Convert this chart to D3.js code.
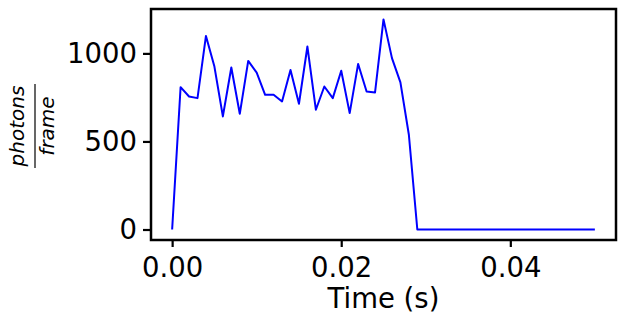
<!DOCTYPE html>
<html>
<head>
<meta charset="utf-8">
<script src="https://cdn.jsdelivr.net/npm/d3@7"></script>
<style>
  body { margin: 0; background: #fff; }
  svg text { font-family: "DejaVu Sans", sans-serif; fill: #000; }
</style>
</head>
<body>
<div id="chart"></div>
<script>
// time samples (s), one every ms
const times = d3.range(0, 51).map(i => i / 1000);
// photons per frame
const photons = [
    0, 808, 755, 746, 1099, 925, 642, 920, 657, 957,
    891, 765, 765, 727, 906, 714, 1039, 680, 812, 746,
    901, 661, 940, 784, 778, 1193, 973, 835, 538, 0,
    0, 0, 0, 0, 0, 0, 0, 0, 0, 0,
    0, 0, 0, 0, 0, 0, 0, 0, 0, 0, 0
];
const xTicks = [0, 0.02, 0.04];
const yTicks = [0, 500, 1000];

const width = 625, height = 325;
const margin = { top: 9, right: 9, bottom: 85, left: 151 };

const svg = d3.select("#chart").append("svg")
    .attr("width", width)
    .attr("height", height);

const x = d3.scaleLinear()
    .domain([-0.0025, 0.0525])
    .range([margin.left, width - margin.right]);

const y = d3.scaleLinear()
    .domain([-59.6, 1252])
    .range([height - margin.bottom, margin.top]);

const data = times.map((t, i) => ({ t: t, v: photons[i] }));

// the line
const line = d3.line()
    .x(d => x(d.t))
    .y(d => y(d.v));

svg.append("path")
    .datum(data)
    .attr("fill", "none")
    .attr("stroke", "#0000ff")
    .attr("stroke-width", 2)
    .attr("stroke-linejoin", "round")
    .attr("d", line);

// axes
const xAxis = svg.append("g")
    .attr("transform", `translate(0,${height - margin.bottom})`)
    .call(d3.axisBottom(x).tickValues(xTicks).tickFormat(d3.format(".2f")).tickSize(7).tickPadding(10));

const yAxis = svg.append("g")
    .attr("transform", `translate(${margin.left},0)`)
    .call(d3.axisLeft(y).tickValues(yTicks).tickFormat(d3.format("d")).tickSize(8).tickPadding(6));

[xAxis, yAxis].forEach(a => {
    a.select(".domain").remove();
    a.selectAll(".tick line").attr("stroke", "#000").attr("stroke-width", 2.2);
    a.selectAll(".tick text").style("font-size", "27.5px");
});

// frame
svg.append("rect")
    .attr("x", margin.left)
    .attr("y", margin.top)
    .attr("width", width - margin.left - margin.right)
    .attr("height", height - margin.top - margin.bottom)
    .attr("fill", "none")
    .attr("stroke", "#000")
    .attr("stroke-width", 2.5);

// x label
svg.append("text")
    .attr("x", (margin.left + width - margin.right) / 2)
    .attr("y", 308)
    .attr("text-anchor", "middle")
    .style("font-size", "27.5px")
    .text("Time (s)");

// y label: photons / frame fraction
const yl = svg.append("g")
    .attr("transform", "translate(35,126) rotate(-90)");

yl.append("text")
    .attr("x", 0)
    .attr("y", -11)
    .attr("text-anchor", "middle")
    .style("font-size", "20px")
    .style("font-style", "italic")
    .text("photons");

yl.append("line")
    .attr("x1", -42)
    .attr("x2", 42)
    .attr("y1", 0)
    .attr("y2", 0)
    .attr("stroke", "#000")
    .attr("stroke-width", 1.2);

yl.append("text")
    .attr("x", 0)
    .attr("y", 19)
    .attr("text-anchor", "middle")
    .style("font-size", "20px")
    .style("font-style", "italic")
    .text("frame");
</script>
</body>
</html>
